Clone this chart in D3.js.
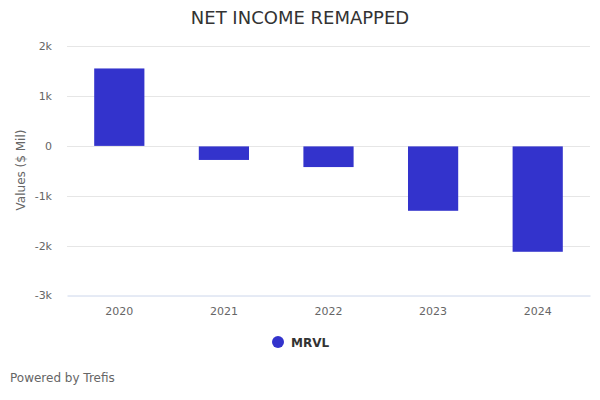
<!DOCTYPE html>
<html><head><meta charset="utf-8">
<script src="https://cdn.jsdelivr.net/npm/d3@7"></script>
<style>body{margin:0;background:#fff;font-family:"DejaVu Sans",sans-serif}</style>
</head><body><svg id="c" width="600" height="400"></svg>
<script>
const categories = ["2020","2021","2022","2023","2024"];
const values = [1555, -272, -415, -1293, -2116];
const seriesName = "MRVL";
const yTicks = [-3000,-2000,-1000,0,1000,2000];
const yTickLabels = ["-3k","-2k","-1k","0","1k","2k"];

(function(){
const svg = d3.select("#c");
const pl = 67, pr = 590, pt = 46.3, pb = 295.3;
const x = d3.scaleBand().domain(categories).range([pl, pr]).paddingInner(0.52).paddingOuter(0.26);
const y = d3.scaleLinear().domain([-3000, 2000]).range([pb, pt]);

svg.append("text").attr("x", 300).attr("y", 24).attr("text-anchor","middle")
  .attr("font-size", 18).attr("fill","#333").text("NET INCOME REMAPPED");

const yAxis = d3.axisLeft(y).tickValues(yTicks).tickFormat((d,i)=>yTickLabels[i]).tickSize(0);
const gy = svg.append("g").attr("transform",`translate(${pl},0)`).call(yAxis);
gy.select(".domain").remove();
gy.selectAll("text").attr("x",-15).attr("dy","0.32em").attr("font-size",11).attr("fill","#666").attr("font-family","DejaVu Sans");

svg.append("g").selectAll("line").data(yTicks.filter(d=>d!==-3000)).join("line")
  .attr("x1",pl).attr("x2",pr).attr("y1",d=>Math.round(y(d))+0.5).attr("y2",d=>Math.round(y(d))+0.5)
  .attr("stroke","#e6e6e6").attr("stroke-width",1);

const xAxis = d3.axisBottom(x).tickSize(0);
const gx = svg.append("g").attr("transform",`translate(0,${Math.round(pb)+0.5})`).call(xAxis);
gx.select(".domain").attr("stroke","#ccd6eb");
gx.selectAll("text").attr("dy","0").attr("y",19).attr("font-size",11).attr("fill","#666").attr("font-family","DejaVu Sans");

svg.append("g").selectAll("rect").data(values).join("rect")
  .attr("x",(d,i)=>x(categories[i]))
  .attr("width",x.bandwidth())
  .attr("y",d=>d>=0?y(d):y(0)+0.5)
  .attr("height",d=>Math.abs(y(d)-y(0)))
  .attr("fill","#3333cc");

svg.append("text").attr("x",25).attr("y",170).attr("transform","rotate(-90,25,170)")
  .attr("text-anchor","middle").attr("font-size",12).attr("fill","#666").text("Values ($ Mil)");

svg.append("circle").attr("cx",278).attr("cy",342).attr("r",6).attr("fill","#3333cc");
svg.append("text").attr("x",291).attr("y",347).attr("font-size",12).attr("font-weight","bold").attr("fill","#333").text(seriesName);

svg.append("text").attr("x",10).attr("y",382).attr("font-size",12).attr("fill","#666").text("Powered by Trefis");
})();
</script></body></html>
